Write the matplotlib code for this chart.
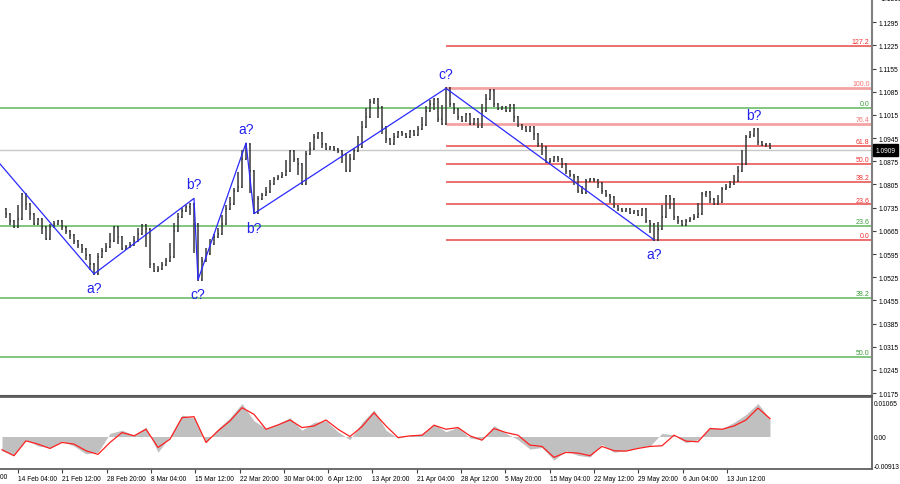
import matplotlib
matplotlib.use('Agg')
import matplotlib.pyplot as plt
import matplotlib.transforms as mtrans
from matplotlib.collections import LineCollection

# ---------------- data ----------------
closes = [
    1.0731, 1.0716, 1.0695, 1.0677, 1.0701, 1.0776, 1.0746, 1.0716, 1.0686, 1.0701,
    1.0677, 1.0641, 1.0677, 1.0686, 1.0695, 1.0677, 1.0665, 1.0653, 1.0635, 1.0623,
    1.0610, 1.0592, 1.0565, 1.0536, 1.0586, 1.0604, 1.0617, 1.0635, 1.0677, 1.0647,
    1.0610, 1.0617, 1.0623, 1.0635, 1.0656, 1.0683, 1.0671, 1.0565, 1.0544, 1.0550,
    1.0562, 1.0574, 1.0586, 1.0665, 1.0707, 1.0725, 1.0737, 1.0746, 1.0686, 1.0518,
    1.0574, 1.0595, 1.0626, 1.0647, 1.0656, 1.0686, 1.0731, 1.0746, 1.0785, 1.0798,
    1.0882, 1.0928, 1.0846, 1.0720, 1.0761, 1.0773, 1.0782, 1.0807, 1.0822, 1.0828,
    1.0834, 1.0846, 1.0906, 1.0882, 1.0867, 1.0807, 1.0897, 1.0912, 1.0948, 1.0961,
    1.0927, 1.0912, 1.0918, 1.0912, 1.0906, 1.0897, 1.0846, 1.0882, 1.0906, 1.0918,
    1.0979, 1.1009, 1.1054, 1.1063, 1.1039, 1.0979, 1.0942, 1.0927, 1.0948, 1.0964,
    1.0958, 1.0948, 1.0967, 1.0955, 1.0973, 1.0985, 1.1027, 1.1048, 1.1063, 1.1003,
    1.0988, 1.1095, 1.1048, 1.1033, 1.1009, 1.0997, 1.1018, 1.0988, 1.1003, 1.0979,
    1.1027, 1.1063, 1.1090, 1.1048, 1.1033, 1.1039, 1.1027, 1.1045, 1.1009, 1.0985,
    1.0979, 1.0967, 1.0979, 1.0958, 1.0927, 1.0918, 1.0873, 1.0876, 1.0888, 1.0882,
    1.0867, 1.0846, 1.0834, 1.0828, 1.0785, 1.0779, 1.0816, 1.0822, 1.0819, 1.0810,
    1.0785, 1.0773, 1.0767, 1.0740, 1.0731, 1.0725, 1.0731, 1.0719, 1.0725, 1.0713,
    1.0731, 1.0695, 1.0686, 1.0638, 1.0671, 1.0707, 1.0770, 1.0761, 1.0707, 1.0695,
    1.0683, 1.0695, 1.0701, 1.0707, 1.0716, 1.0776, 1.0782, 1.0761, 1.0746, 1.0752,
    1.0791, 1.0798, 1.0807, 1.0816, 1.0846, 1.0867, 1.0948, 1.0955, 1.0972, 1.0933,
    1.0924, 1.0927, 1.0915,
]

wave_idx = [-1, 23, 48, 49, 61, 63, 111, 163]
wave_price = [1.0874, 1.0535, 1.0763, 1.0517, 1.0930, 1.0717, 1.1095, 1.0638]

label_idx = [23, 48, 49, 61, 63, 111, 163, 188]
label_price = [1.0535, 1.0763, 1.0517, 1.0930, 1.0717, 1.1095, 1.0638, 1.0972]
label_text = ['a?', 'b?', 'c?', 'a?', 'b?', 'c?', 'a?', 'b?']
label_above = [False, True, False, True, False, True, False, True]

red_fib_names = ['127.2', '100.0', '76.4', '61.8', '50.0', '38.2', '23.6', '0.0']
red_fib_prices = [1.1222, 1.1097, 1.0988, 1.0921, 1.0867, 1.0813, 1.0745, 1.0637]
red_fib_start = 111

green_fib_names = ['0.0', '23.6', '38.2', '50.0']
green_fib_prices = [1.1035, 1.0681, 1.0463, 1.0284]

current_price = 1.0909
price_ticks = [1.1365, 1.1295, 1.1225, 1.1155, 1.1085, 1.1015, 1.0945, 1.0875,
               1.0805, 1.0735, 1.0665, 1.0595, 1.0525, 1.0455, 1.0385, 1.0315,
               1.0245, 1.0175]

xtick_labels = ['6 Feb 20:00', '14 Feb 04:00', '21 Feb 12:00', '28 Feb 20:00', '8 Mar 04:00',
                '15 Mar 12:00', '22 Mar 20:00', '30 Mar 04:00', '6 Apr 12:00',
                '13 Apr 20:00', '21 Apr 04:00', '28 Apr 12:00', '5 May 20:00',
                '15 May 04:00', '22 May 12:00', '29 May 20:00', '6 Jun 04:00',
                '13 Jun 12:00']

ind_idx = list(range(0, 193, 3))
macd = [-0.0045, -0.0060, -0.0010, -0.0030, -0.0035, -0.0015, -0.0030, -0.0055, -0.0050,
        0.0010, 0.0020, 0.0005, 0.0030, -0.0050, 0.0000, 0.0068, 0.0060, -0.0020,
        0.0025, 0.0060, 0.0105, 0.0050, 0.0025, 0.0040, 0.0060, 0.0020, 0.0045,
        0.0050, 0.0015, -0.0010, 0.0045, 0.0085, 0.0020, -0.0005, 0.0003, 0.0008,
        0.0040, 0.0015, 0.0030, -0.0005, -0.0010, 0.0035, 0.0010, -0.0010, -0.0040,
        -0.0035, -0.0075, -0.0045, -0.0060, -0.0065, -0.0025, -0.0050, -0.0045,
        -0.0035, -0.0030, 0.0010, 0.0005, -0.0020, -0.0010, 0.0030, 0.0025, 0.0045,
        0.0070, 0.0105, 0.0055]
signal = [-0.00421, -0.00610, -0.00137, -0.00242, -0.00379, -0.00189, -0.00242, -0.00452,
          -0.00568, -0.00189, 0.00126, 0.00021, 0.00231, -0.00347, -0.00084, 0.00599,
          0.00631, -0.00189, 0.00179, 0.00494, 0.00915, 0.00705, 0.00231, 0.00368,
          0.00526, 0.00284, 0.00336, 0.00526, 0.00231, 0.00000, 0.00315, 0.00757,
          0.00336, -0.00032, 0.00021, 0.00042, 0.00358, 0.00231, 0.00284, 0.00021,
          -0.00116, 0.00252, 0.00126, 0.00042, -0.00273, -0.00315, -0.00662, -0.00505,
          -0.00526, -0.00610, -0.00315, -0.00452, -0.00463, -0.00379, -0.00315,
          -0.00294, 0.00042, -0.00147, -0.00168, 0.00252, 0.00231, 0.00336, 0.00526,
          0.00904, 0.00568]
ind_ticks = [0.01065, 0.0, -0.00913]
ind_tick_labels = ['0.01065', '0.00', '-0.00913']

# ---------------- figure ----------------
W, H = 900, 485
fig = plt.figure(figsize=(W / 100, H / 100), dpi=100)
small = dict(family=['Liberation Sans', 'DejaVu Sans'], size=4.8)
fibf = dict(family=['Liberation Sans', 'DejaVu Sans'], size=5.0)

ax = fig.add_axes([0, 1 - 396.5 / H, 872 / W, 396.5 / H])
axi = fig.add_axes([0, 1 - 470 / H, 872 / W, (470 - 397.5) / H])

XMIN, XMAX = -0.5, 217.5
ax.set_xlim(XMIN, XMAX)
ax.set_ylim(1.0168, 1.13648)
axi.set_xlim(XMIN, XMAX)
axi.set_ylim(-0.01032, 0.01271)

# horizontal levels
ax.axhline(current_price, color='#c8c8c8', lw=1, zorder=1)
for name, p in zip(green_fib_names, green_fib_prices):
    ax.axhline(p, color='#5cb85c', lw=1.1, zorder=1)
    ax.text(216.9, p + 0.00025, name, ha='right', va='bottom', color='#3a9a3a', **fibf)
for name, p in zip(red_fib_names, red_fib_prices):
    light = name in ('100.0', '76.4')
    ax.hlines(p, red_fib_start, XMAX, color='#f4a3a3' if light else '#e84848',
              lw=2 if light else 1.1, zorder=1)
    ax.text(216.9, p + 0.00025, name, ha='right', va='bottom',
            color='#f07070' if light else '#f03030', **fibf)

# price bars (OHLC style: open = previous close)
segs = []
for i in range(1, len(closes)):
    o, c = closes[i - 1], closes[i]
    nxt = closes[i + 1] if i + 1 < len(closes) else c
    lo = min(o, c, (c + nxt) / 2) - 0.0003
    hi = max(o, c, (c + nxt) / 2) + 0.0003
    segs.append([(i, lo), (i, hi)])
    segs.append([(i - 0.3, o), (i, o)])
    segs.append([(i, c), (i + 0.3, c)])
ax.add_collection(LineCollection(segs, colors='#383838', linewidths=1.1, zorder=3))

# wave lines & labels
ax.plot(wave_idx, wave_price, color='#2a2aff', lw=0.9, zorder=4)
for xi, p, t, up in zip(label_idx, label_price, label_text, label_above):
    ax.annotate(t, (xi, p), xytext=(0, 14 if up else -14), textcoords='offset pixels',
                ha='center', va='center', color='#2222ee',
                family=['Liberation Sans', 'DejaVu Sans'], size=10, zorder=5)

# right axis (price)
ax.yaxis.tick_right()
ax.set_yticks([t for t in price_ticks if t < 1.1364])
ax.set_yticklabels(['%.4f' % t for t in price_ticks if t < 1.1364], **small)
ax.tick_params(axis='y', direction='out', length=3, width=0.8, color='#404040', pad=2)
bt = mtrans.blended_transform_factory(ax.transAxes, ax.transData)
ax.text(1.0, 1.1365, '     1.1365', transform=bt, ha='left', va='center', clip_on=False, **small)
ax.text(1.004, current_price, '1.0909', transform=bt,
        ha='left', va='center', color='white', clip_on=False,
        bbox=dict(boxstyle='square,pad=0.35', fc='black', ec='black'), **small)
ax.set_xticks([])
for s in ['top', 'left']:
    ax.spines[s].set_visible(False)
ax.spines['right'].set_color('#808080')
ax.spines['right'].set_linewidth(1.5)
ax.spines['bottom'].set_color('#555555')
ax.spines['bottom'].set_linewidth(1.5)

# indicator
axi.fill_between(ind_idx, 0, macd, color='#c0c0c0', lw=0, zorder=2)
axi.plot(ind_idx, signal, color='#ff2020', lw=0.9, zorder=3)
axi.yaxis.tick_right()
axi.set_yticks(ind_ticks)
axi.set_yticklabels(ind_tick_labels, **small)
axi.tick_params(axis='y', length=0, pad=1.2)
axi.spines['left'].set_visible(False)
for s in ['top', 'bottom', 'right']:
    axi.spines[s].set_color('#606060')
    axi.spines[s].set_linewidth(1.3)

step = 11.0775
pos = [-7.08 + k * step for k in range(len(xtick_labels))]
axi.set_xticks(pos[1:])
axi.set_xticklabels(xtick_labels[1:], ha='left', **small)
axi.tick_params(axis='x', direction='out', length=3, width=0.8, color='#404040', pad=1.5)
axi.text(pos[0] - 0.3, -0.01155, xtick_labels[0], ha='left', va='top', clip_on=False, **small)

fig.savefig('out.png', dpi=100, facecolor='white')
